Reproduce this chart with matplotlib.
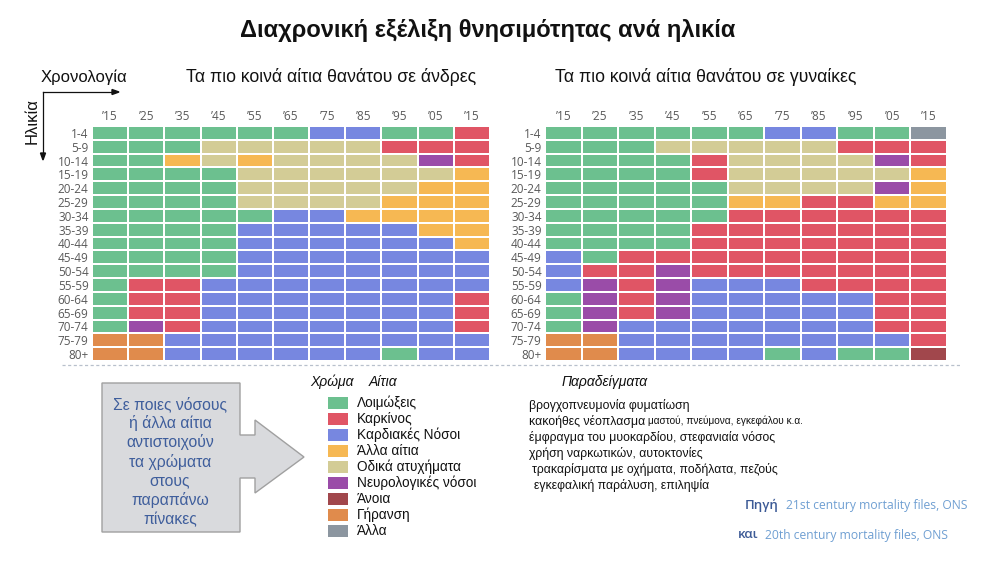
import matplotlib

matplotlib.use("Agg")
import matplotlib.pyplot as plt
import numpy as np
from matplotlib.colors import ListedColormap
from matplotlib.lines import Line2D
from matplotlib.patches import Polygon, Rectangle

W, H = 991, 577
SANS = ["Liberation Sans", "DejaVu Sans"]
OPEN = ["Open Sans", "DejaVu Sans"]

years = ["’15", "’25", "’35", "’45", "’55", "’65", "’75", "’85", "’95", "’05", "’15"]
ages = ["1-4", "5-9", "10-14", "15-19", "20-24", "25-29", "30-34", "35-39", "40-44",
        "45-49", "50-54", "55-59", "60-64", "65-69", "70-74", "75-79", "80+"]

# G infections, C cancer, H heart, O other causes, R road, N neuro, D dementia, A ageing, X other
cause_codes = ["G", "C", "H", "O", "R", "N", "D", "A", "X"]
cause_labels = ["Λοιμώξεις", "Καρκίνος", "Καρδιακές Νόσοι", "Άλλα αίτια", "Οδικά ατυχήματα",
                "Νευρολογικές νόσοι", "Άνοια", "Γήρανση", "Άλλα"]
cause_colors = ["#6cc08f", "#e05565", "#7787e0", "#f6b853", "#d3cc96", "#9a4ca8",
                "#a1474c", "#e08b4c", "#8c96a0"]
examples = ["βρογχοπνευμονία φυματίωση", "κακοήθες νέοπλασμα", "έμφραγμα του μυοκαρδίου, στεφανιαία νόσος",
            "χρήση ναρκωτικών, αυτοκτονίες", "τρακαρίσματα με οχήματα, ποδήλατα, πεζούς",
            "εγκεφαλική παράλυση, επιληψία"]
example_note = "μαστού, πνεύμονα, εγκεφάλου κ.α."

men_rows = [
    "GGGGGGHHGGC",
    "GGGRRRRRCCC",
    "GGORORRRRNC",
    "GGGGRRRRRRO",
    "GGGGRRRRROO",
    "GGGGRRRROOO",
    "GGGGGHHOOOO",
    "GGGGHHHHHOO",
    "GGGGHHHHHHO",
    "GGGGHHHHHHH",
    "GGGGHHHHHHH",
    "GCCHHHHHHHH",
    "GCCHHHHHHHC",
    "GCCHHHHHHHC",
    "GNCHHHHHHHC",
    "AAHHHHHHHHH",
    "AAHHHHHHGHH",
]
women_rows = [
    "GGGGGGHHGGX",
    "GGGRRRRRCCC",
    "GGGGCRRRRNC",
    "GGGGCRRRRRO",
    "GGGGGRRRRNO",
    "GGGGGOOCCOO",
    "GGGGGCCCCCC",
    "GGGGCCCCCCC",
    "GGGGCCCCCCC",
    "HGCCCCCCCCC",
    "HCCNCCCCCCC",
    "HNCNHHHCCCC",
    "GNCNHHHHHCC",
    "GNCNHHHHHCC",
    "GNHHHHHHHCC",
    "AAHHHHHHHHC",
    "AAHHHHGHGGD",
]

cmap = ListedColormap(cause_colors)


def fx(x):
    return x / W


def fy(y):
    return 1 - y / H


fig = plt.figure(figsize=(W / 100, H / 100), dpi=100)
fig.patch.set_facecolor("white")


def draw_grid(x0, x1, y0, y1, rows):
    ax = fig.add_axes([fx(x0), fy(y1), fx(x1) - fx(x0), fy(y0) - fy(y1)])
    idx = np.array([[cause_codes.index(c) for c in r] for r in rows])
    ax.pcolormesh(idx, cmap=cmap, vmin=-0.5, vmax=len(cause_codes) - 0.5,
                  edgecolors="white", linewidth=1.1)
    ax.set_xlim(0, len(years))
    ax.set_ylim(len(ages), 0)
    ax.set_xticks(np.arange(len(years)) + 0.5, years)
    ax.set_yticks(np.arange(len(ages)) + 0.5, ages)
    ax.xaxis.tick_top()
    ax.tick_params(length=0, labelsize=8.5, labelcolor="#595959", pad=2.5)
    ax.tick_params(axis="x", pad=2)
    for lab in ax.get_xticklabels() + ax.get_yticklabels():
        lab.set_fontfamily(OPEN)
    for s in ax.spines.values():
        s.set_visible(False)
    return ax


draw_grid(92, 490, 126, 361, men_rows)
draw_grid(545, 947, 126, 361, women_rows)

# titles
fig.text(fx(488), fy(31), "Διαχρονική εξέλιξη θνησιμότητας ανά ηλικία", ha="center", va="center",
         fontsize=17, fontweight="bold", family=SANS, color="#111111")
fig.text(fx(331), fy(77), "Τα πιο κοινά αίτια θανάτου σε άνδρες", ha="center", va="center",
         fontsize=12.7, family=SANS, color="#111111")
fig.text(fx(706), fy(77), "Τα πιο κοινά αίτια θανάτου σε γυναίκες", ha="center", va="center",
         fontsize=12.7, family=SANS, color="#111111")

# axis hints
fig.text(fx(41), fy(77), "Χρονολογία", ha="left", va="center", fontsize=12, family=SANS, color="#111111")
fig.text(fx(32), fy(121), "Ηλικία", ha="center", va="center", rotation=90, fontsize=12,
         family=SANS, color="#111111")
fig.add_artist(Line2D([fx(43), fx(115)], [fy(92), fy(92)], color="#111111", lw=0.9,
                      transform=fig.transFigure))
fig.add_artist(Line2D([fx(43), fx(43)], [fy(92), fy(156)], color="#111111", lw=0.9,
                      transform=fig.transFigure))
fig.add_artist(Polygon([(fx(112), fy(89.5)), (fx(119), fy(92)), (fx(112), fy(94.5))], closed=True,
                       color="#111111", transform=fig.transFigure))
fig.add_artist(Polygon([(fx(40.5), fy(153)), (fx(43), fy(160)), (fx(45.5), fy(153))], closed=True,
                       color="#111111", transform=fig.transFigure))

# dashed separator
fig.add_artist(Line2D([fx(62), fx(962)], [fy(365), fy(365)], color="#b8c0cc", lw=0.9,
                      ls=(0, (2.5, 2)), transform=fig.transFigure))

# block arrow with question
arrow_pts = [(102, 383), (240, 383), (240, 435), (255, 435), (255, 420), (304, 457), (255, 493),
             (255, 478), (240, 478), (240, 532), (102, 532)]
fig.add_artist(Polygon([(fx(x), fy(y)) for x, y in arrow_pts], closed=True, facecolor="#d9dadd",
                       edgecolor="#a0a0a0", lw=1, transform=fig.transFigure))
box_lines = ["Σε ποιες νόσους", "ή άλλα αίτια", "αντιστοιχούν", "τα χρώματα", "στους", "παραπάνω", "πίνακες"]
for i, line in enumerate(box_lines):
    fig.text(fx(170), fy(404 + i * 19.2), line, ha="center", va="center", fontsize=11.3,
             family=SANS, color="#3f5e9c")

# legend
fig.text(fx(310), fy(382), "Χρώμα", ha="left", va="center", fontsize=10, style="italic",
         family=SANS, color="#111111")
fig.text(fx(369), fy(382), "Αίτια", ha="left", va="center", fontsize=10, style="italic",
         family=SANS, color="#111111")
fig.text(fx(562), fy(382), "Παραδείγματα", ha="left", va="center", fontsize=10, style="italic",
         family=SANS, color="#111111")
row_y = [403 + i * 16 for i in range(len(cause_labels))]
for y, lab, col in zip(row_y, cause_labels, cause_colors):
    fig.add_artist(Rectangle((fx(328), fy(y + 6)), fx(20), 12 / H, facecolor=col, edgecolor="none",
                             transform=fig.transFigure))
    fig.text(fx(357), fy(y), lab, ha="left", va="center", fontsize=9.8, family=SANS, color="#111111")
ex_x = [529, 529, 529, 529, 532, 534]
for i, (y, ex) in enumerate(zip(row_y, examples)):
    t = fig.text(fx(ex_x[i]), fy(y + 2), ex, ha="left", va="center", fontsize=8.8, family=SANS,
                 color="#111111")
    if i == 1:
        fig.canvas.draw()
        bb = t.get_window_extent()
        fig.text(bb.x1 / W + fx(3), fy(y + 2), example_note, ha="left", va="center", fontsize=7.3,
                 family=SANS, color="#111111")

# source
fig.text(fx(779), fy(505), "Πηγή", ha="right", va="center", fontsize=9.5, family=OPEN,
         fontweight="semibold", color="#3c5a96")
fig.text(fx(786), fy(505), "21st century mortality files, ONS", ha="left", va="center", fontsize=8.7,
         family=OPEN, color="#6f9fd2")
fig.text(fx(758), fy(535), "και", ha="right", va="center", fontsize=9.5, family=OPEN,
         fontweight="semibold", color="#3c5a96")
fig.text(fx(765), fy(535), "20th century mortality files, ONS", ha="left", va="center", fontsize=8.7,
         family=OPEN, color="#6f9fd2")

fig.savefig("out.png", dpi=100, facecolor="white")
